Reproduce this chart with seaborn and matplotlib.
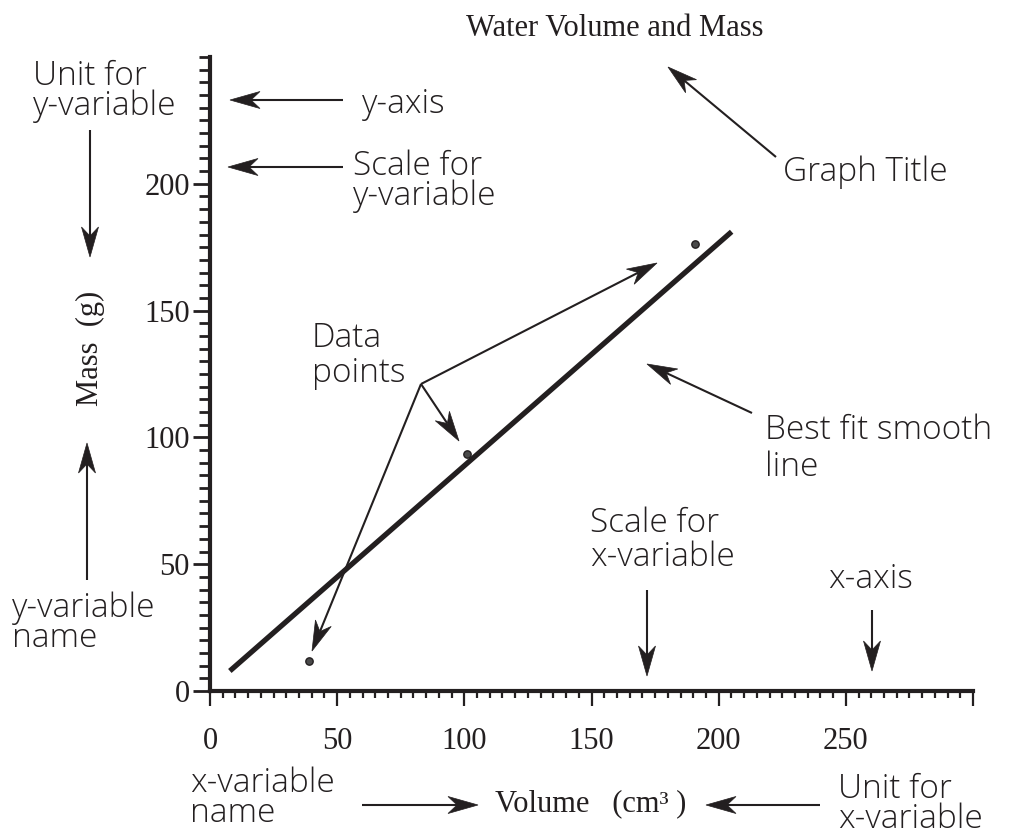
import numpy as np
import pandas as pd
import matplotlib
matplotlib.use("Agg")
import matplotlib.pyplot as plt
import seaborn as sns
from matplotlib.ticker import MultipleLocator
from matplotlib.patches import Polygon

# ---- data ----
volume = [38.8, 101.0, 190.6]
mass = [11.8, 93.5, 176.4]
fit_volume = [7.8, 205.1]
fit_mass = [7.9, 181.1]
x_ticks = [0, 50, 100, 150, 200, 250, 300]
x_tick_labels = ["0", "50", "100", "150", "200", "250", ""]
y_ticks = [0, 50, 100, 150, 200]
y_tick_labels = ["0", "50", "100", "150", "200"]
title = "Water Volume and Mass"
x_label = "Volume   (cm\u00b3 )"
y_label = "Mass  (g)"

sns.set_theme(style="ticks")
plt.rcParams['font.family'] = ['Liberation Serif', 'DejaVu Serif']

INK = '#231f20'
W, H = 1009, 834
fig = plt.figure(figsize=(W / 100, H / 100), dpi=100)
fig.patch.set_facecolor('white')
left, right, top, bottom = 210, 973, 57, 691
ax = fig.add_axes([left / W, 1 - bottom / H, (right - left) / W, (bottom - top) / H])
ax.set_facecolor('none')

pts = pd.DataFrame({'volume': volume, 'mass': mass})
fit = pd.DataFrame({'volume': fit_volume, 'mass': fit_mass})
sns.lineplot(data=fit, x='volume', y='mass', ax=ax, color=INK, lw=3.8,
             solid_capstyle='butt')
sns.scatterplot(data=pts, x='volume', y='mass', ax=ax, color='#4a4a4a',
                edgecolor=INK, s=28, linewidth=1.0, zorder=5)

ax.set_xlim(0, 300)
ax.set_ylim(0, 250)
for s in ['top', 'right']:
    ax.spines[s].set_visible(False)
for s in ['left', 'bottom']:
    ax.spines[s].set_linewidth(3)
    ax.spines[s].set_color(INK)
ax.set_xticks(x_ticks)
ax.set_xticklabels(x_tick_labels)
ax.set_yticks(y_ticks)
ax.set_yticklabels(y_tick_labels)
ax.xaxis.set_minor_locator(MultipleLocator(5))
ax.yaxis.set_minor_locator(MultipleLocator(5))
ax.tick_params(axis='x', which='major', length=11, width=1.6, pad=15,
               labelsize=22, colors=INK, direction='out')
ax.tick_params(axis='x', which='minor', length=5, width=1.6, colors=INK,
               direction='out')
ax.tick_params(axis='y', which='major', length=12.5, width=2.0, pad=2,
               labelsize=22, colors=INK, direction='out')
ax.tick_params(axis='y', which='minor', length=8, width=2.0, colors=INK,
               direction='out')
ax.set_xlabel('')
ax.set_ylabel('')

# ---- overlay in pixel coordinates for annotations ----
ov = fig.add_axes([0, 0, 1, 1], zorder=10)
ov.set_xlim(0, W)
ov.set_ylim(H, 0)
ov.axis('off')
ov.patch.set_alpha(0)

serif = dict(family=['Liberation Serif', 'DejaVu Serif'], size=22, color=INK)
ov.text(615, 36, title, ha='center', va='baseline', **serif)
ov.text(591, 804, x_label, ha='center', va='center', **serif)
ov.text(90, 348, y_label, ha='center', va='center', rotation=90, **serif)

hand = dict(family=['Open Sans', 'DejaVu Sans'], weight='light', size=24,
            color=INK)
# (text, left x, last-line baseline y, line spacing)
labels = [
    ("Unit for\ny-variable", 33, 115, 0.86),
    ("y-axis", 362, 113, 1.0),
    ("Scale for\ny-variable", 353, 205, 0.86),
    ("Graph Title", 783, 181, 1.0),
    ("Data\npoints", 312, 382, 1.05),
    ("Best fit smooth\nline", 765, 476, 1.13),
    ("Scale for\nx-variable", 590, 566, 1.0),
    ("x-axis", 828, 588, 1.0),
    ("y-variable\nname", 12, 647, 0.86),
    ("x-variable\nname", 190, 822, 0.86),
    ("Unit for\nx-variable", 838, 828, 0.86),
]
for t, x, y, ls in labels:
    ov.text(x, y, t, ha='left', va='baseline', linespacing=ls, **hand)


def arrow(tail, tip, L=30, Wd=8.5, d=9, lw=1.5):
    tx, ty = tail
    px, py = tip
    v = np.array([px - tx, py - ty], dtype=float)
    u = v / np.hypot(*v)
    n = np.array([-u[1], u[0]])
    T = np.array([px, py], dtype=float)
    back = T - L * u
    notch = T - (L - d) * u
    ov.plot([tx, notch[0]], [ty, notch[1]], color=INK, lw=lw,
            solid_capstyle='butt')
    poly = Polygon([T, back + Wd * n, notch, back - Wd * n], closed=True,
                   facecolor=INK, edgecolor=INK, lw=0.5)
    ov.add_patch(poly)


arrow((90, 130), (90, 257))
arrow((343, 100), (230, 100))
arrow((343, 167), (228, 167))
arrow((776, 157), (668, 67))
arrow((421, 384), (657, 263))
arrow((421, 384), (459, 441))
arrow((421, 384), (312, 651))
arrow((752, 413), (647, 364))
arrow((647, 590), (647, 676))
arrow((872, 610), (872, 671))
arrow((87, 580), (87, 443))
arrow((362, 805), (478, 805))
arrow((820, 805), (706, 805))

fig.savefig('out.png', dpi=100, facecolor='white')
